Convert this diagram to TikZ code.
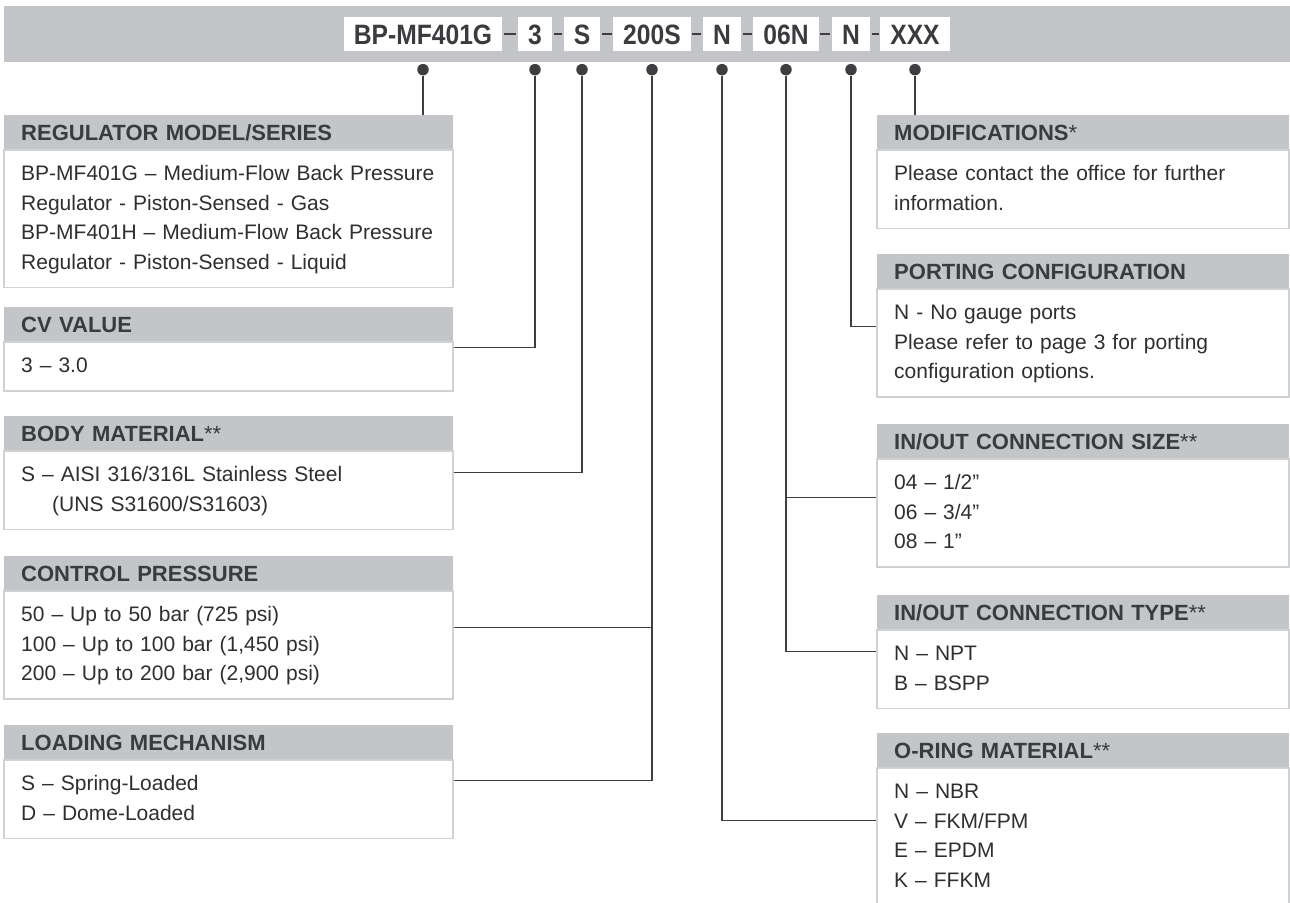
\documentclass[tikz,border=0pt]{standalone}
\usepackage{fontspec}
\setmainfont{Liberation Sans}
\newfontfamily\codefont[FakeStretch=0.88]{Liberation Sans}
\usetikzlibrary{positioning}
\definecolor{barg}{HTML}{C4C5C9}
\definecolor{headc}{HTML}{3A3B3E}
\definecolor{bodyc}{HTML}{2F2F31}
\definecolor{bordc}{HTML}{D0D1D3}
\definecolor{wirec}{HTML}{3E3E40}
\begin{document}
\begin{tikzpicture}[x=1pt,y=1pt,
  code/.style={fill=white,text=headc,font=\codefont\bfseries\fontsize{28}{30}\selectfont,
    inner xsep=10pt,inner ysep=0pt,minimum height=34pt,text height=20pt,text depth=0pt},
  dot/.style={circle,fill=wirec,inner sep=0pt,minimum size=11.5pt},
  dashln/.style={wirec,line width=2.2pt,shorten <=1.5pt,shorten >=1.5pt},
  wire/.style={wirec,line width=1.3pt},
  head/.style={fill=barg,text=headc,font=\bfseries\fontsize{22}{26}\selectfont,anchor=north west,
    inner xsep=17pt,inner ysep=0pt,minimum height=34pt,text height=15.8pt,text depth=0pt,align=left},
  lhead/.style={head,text width=415pt},
  rhead/.style={head,text width=378pt},
  body/.style={draw=bordc,line width=1.5pt,fill=white,text=bodyc,font=\fontsize{21}{29.5}\selectfont,
    inner xsep=17pt,inner ysep=9.75pt,align=left,below=0pt of #1,
    execute at begin node=\strut,execute at end node=\strut},
  lbody/.style={body=#1,text width=415pt},
  rbody/.style={body=#1,text width=378pt}]
\useasboundingbox (0,0) rectangle (1290,-902);
\clip (0,0) rectangle (1290,-902);
\pgfmathsetmacro{\xl}{4}
\pgfmathsetmacro{\xr}{877}
% code bar
\fill[barg] (4,-6) rectangle (1290,-62);
\node[code] (c1) at (423,-34) {BP-MF401G};
\node[code] (c2) at (535,-34) {3};
\node[code] (c3) at (582,-34) {S};
\node[code] (c4) at (652,-34) {200S};
\node[code] (c5) at (722,-34) {N};
\node[code] (c6) at (786,-34) {06N};
\node[code] (c7) at (851,-34) {N};
\node[code] (c8) at (915,-34) {XXX};
\foreach \i/\j in {1/2,2/3,3/4,4/5,5/6,6/7,7/8}
  \draw[dashln] (c\i) -- (c\j);
\foreach \i in {1,...,8}
  \node[dot,below=12.5pt of c\i] (d\i) {};
% left column
\node[lhead] (reg) at (\xl,-115) {REGULATOR MODEL/SERIES};
\node[lbody=reg] (regb) {BP-MF401G – Medium-Flow Back Pressure\\Regulator - Piston-Sensed - Gas\\BP-MF401H – Medium-Flow Back Pressure\\Regulator - Piston-Sensed - Liquid};
\node[lhead] (cv) at (\xl,-307) {CV VALUE};
\node[lbody=cv] (cvb) {3 – 3.0};
\node[lhead] (bod) at (\xl,-416) {BODY MATERIAL{\mdseries**}};
\node[lbody=bod] (bodb) {S – AISI 316/316L Stainless Steel\\\hspace*{31pt}(UNS S31600/S31603)};
\node[lhead] (cp) at (\xl,-556) {CONTROL PRESSURE};
\node[lbody=cp] (cpb) {50 – Up to 50 bar (725 psi)\\100 – Up to 100 bar (1,450 psi)\\200 – Up to 200 bar (2,900 psi)};
\node[lhead] (ld) at (\xl,-725) {LOADING MECHANISM};
\node[lbody=ld] (ldb) {S – Spring-Loaded\\D – Dome-Loaded};
% right column
\node[rhead] (mod) at (\xr,-115) {MODIFICATIONS{\mdseries*}};
\node[rbody=mod] (modb) {Please contact the office for further\\information.};
\node[rhead] (pt) at (\xr,-254) {PORTING CONFIGURATION};
\node[rbody=pt] (ptb) {N - No gauge ports\\Please refer to page 3 for porting\\configuration options.};
\node[rhead] (sz) at (\xr,-424) {IN/OUT CONNECTION SIZE{\mdseries**}};
\node[rbody=sz] (szb) {04 – 1/2”\\06 – 3/4”\\08 – 1”};
\node[rhead] (tp) at (\xr,-595) {IN/OUT CONNECTION TYPE{\mdseries**}};
\node[rbody=tp] (tpb) {N – NPT\\B – BSPP};
\node[rhead] (or) at (\xr,-733) {O-RING MATERIAL{\mdseries**}};
\node[rbody=or] (orb) {N – NBR\\V – FKM/FPM\\E – EPDM\\K – FFKM};
% connectors
\draw[wire] (d1) -- (d1 |- reg.north);
\draw[wire] (d2) |- ([yshift=-6pt]cvb.north east);
\draw[wire] (d3) |- ([yshift=-22pt]bodb.north east);
\draw[wire] (d4) |- ([yshift=-37pt]cpb.north east);
\draw[wire] (d4) |- ([yshift=-21pt]ldb.north east);
\draw[wire] (d5) |- ([yshift=-53pt]orb.north west);
\draw[wire] (d6) |- ([yshift=-39pt]szb.north west);
\draw[wire] (d6) |- ([yshift=-22pt]tpb.north west);
\draw[wire] (d7) |- ([yshift=-38pt]ptb.north west);
\draw[wire] (d8) -- (d8 |- mod.north);
\end{tikzpicture}
\end{document}
